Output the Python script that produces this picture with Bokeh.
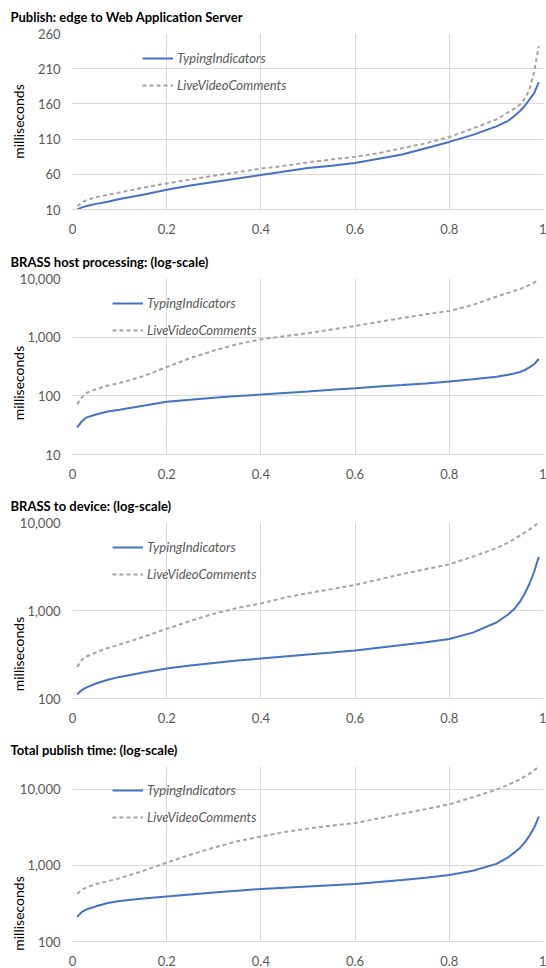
from bokeh.plotting import figure
from bokeh.layouts import column
from bokeh.models import (FixedTicker, NumeralTickFormatter, Range1d, Legend,
                          LegendItem, Label)
from bokeh.embed import file_html
from bokeh.resources import INLINE

# ---------------- data ----------------
pct = [0.01, 0.02, 0.03, 0.05, 0.075, 0.1, 0.15, 0.2, 0.25, 0.3, 0.35, 0.4,
       0.45, 0.5, 0.55, 0.6, 0.65, 0.7, 0.75, 0.8, 0.85, 0.9, 0.925, 0.94,
       0.95, 0.96, 0.97, 0.98, 0.99]

edge_typing = [10, 13, 15, 18, 21, 25, 31, 38, 44, 49, 54, 59, 64, 69, 72, 76,
               82, 88, 97, 106, 116, 128, 136, 144, 150, 157, 166, 175, 191]
edge_live = [15, 20, 23.5, 27.5, 31, 34, 41, 47, 52.5, 58, 63, 68, 72, 77, 81,
             85, 90, 97, 104, 113, 125, 138, 148, 154, 159, 167, 180, 205, 242]

host_typing = [29, 37, 43, 48, 54, 58, 68, 79, 86, 93, 99, 105, 112, 119, 127,
               135, 144, 153, 163, 175, 192, 212, 228, 243, 255, 275, 305, 345,
               425]
host_live = [72, 95, 112, 130, 150, 165, 215, 310, 440, 590, 760, 920, 1040,
             1170, 1350, 1550, 1820, 2130, 2450, 2800, 3550, 4900, 5700, 6250,
             6600, 7100, 7800, 8500, 9400]

device_typing = [112, 125, 134, 148, 163, 176, 198, 219, 237, 253, 270, 285,
                 300, 316, 333, 352, 378, 405, 436, 474, 560, 730, 900, 1070,
                 1260, 1550, 2000, 2750, 4070]
device_live = [228, 275, 300, 335, 375, 410, 500, 620, 760, 920, 1070, 1200,
               1400, 1570, 1750, 1950, 2250, 2600, 2950, 3350, 4100, 5100,
               5900, 6600, 7100, 7700, 8300, 9100, 9930]

total_typing = [211, 245, 265, 290, 320, 340, 368, 391, 415, 440, 465, 490,
                510, 530, 550, 571, 605, 645, 690, 748, 850, 1050, 1280, 1510,
                1700, 2000, 2450, 3100, 4400]
total_live = [424, 480, 515, 570, 620, 680, 850, 1090, 1380, 1720, 2080, 2400,
              2750, 3050, 3350, 3610, 4150, 4800, 5500, 6380, 7900, 9900,
              11500, 12700, 13500, 14700, 16000, 17800, 19900]

x_ticks = [0, 0.2, 0.4, 0.6, 0.8, 1]
titles = ["Publish: edge to Web Application Server",
          "BRASS host processing: (log-scale)",
          "BRASS to device: (log-scale)",
          "Total publish time: (log-scale)"]
series_names = ["TypingIndicators", "LiveVideoComments"]
y_label = "milliseconds"

# ---------------- styling ----------------
FONT = "Lato"
BLUE = "#4472C4"
GRAY = "#A5A5A5"
GRID = "#D9D9D9"
TXT = "#595959"
TOP = 33


def make(title, typing, live, y_type, y_rng, y_ticks, fmt, height, bottom,
         legend_x, label_y):
    p = figure(width=546, height=height, x_range=Range1d(0, 1),
               y_range=Range1d(*y_rng), y_axis_type=y_type,
               output_backend="svg", toolbar_location=None,
               min_border_left=72, min_border_right=3, min_border_top=TOP,
               min_border_bottom=bottom)
    p.outline_line_color = None
    p.background_fill_color = "white"
    p.border_fill_color = "white"

    p.title.text = title
    p.title.text_font = FONT
    p.title.text_font_size = "13px"
    p.title.text_font_style = "bold"
    p.title.text_color = "#000000"
    p.title.align = "left"
    p.title.vertical_align = "top"
    p.title.offset = -62
    p.title.standoff = 13

    p.xaxis.ticker = FixedTicker(ticks=x_ticks)
    p.xaxis.formatter = NumeralTickFormatter(format="0.[0]")
    p.yaxis.ticker = FixedTicker(ticks=y_ticks)
    p.yaxis.formatter = NumeralTickFormatter(format=fmt)
    for ax in (p.xaxis[0], p.yaxis[0]):
        ax.major_tick_line_color = None
        ax.minor_tick_line_color = None
        ax.major_label_text_font = FONT
        ax.major_label_text_font_size = "13px"
        ax.major_label_text_color = TXT
    p.xaxis.axis_line_color = GRID
    p.yaxis.axis_line_color = None
    p.xaxis.major_label_standoff = 8
    # the "milliseconds" panel sits between the frame and the tick labels,
    # so the tick labels are pulled back over it
    p.yaxis.major_label_standoff = -11

    p.xgrid.ticker = FixedTicker(ticks=x_ticks)
    p.ygrid.ticker = FixedTicker(ticks=y_ticks)
    p.grid.grid_line_color = GRID
    p.grid.grid_line_width = 1

    r1 = p.line(pct, typing, line_color=BLUE, line_width=2)
    r2 = p.line(pct, live, line_color=GRAY, line_width=2, line_dash="4 3")

    legend = Legend(items=[LegendItem(label=series_names[0], renderers=[r1]),
                           LegendItem(label=series_names[1], renderers=[r2])],
                    location=(legend_x, 114))
    legend.border_line_color = None
    legend.background_fill_alpha = 0
    legend.padding = 0
    legend.margin = 0
    legend.spacing = 7
    legend.glyph_width = 31
    legend.glyph_height = 20
    legend.label_height = 20
    legend.label_standoff = 4
    legend.label_text_font = FONT
    legend.label_text_font_size = "13px"
    legend.label_text_font_style = "italic"
    legend.label_text_color = TXT
    p.add_layout(legend, "center")

    # "milliseconds" title, in the left side panel (not clipped to the frame)
    lab = Label(x=-37, y=label_y, x_units="screen", y_units="screen",
                text=y_label, angle=1.5707963, text_align="center",
                text_baseline="middle", text_font=FONT,
                text_font_size="14px", text_color="#000000")
    yax = p.yaxis[0]
    p.left = [lab, yax]
    return p


p1 = make(titles[0], edge_typing, edge_live, "linear", (10, 260),
          [10, 60, 110, 160, 210, 260], "0", 245, 36, 70, 88)
p2 = make(titles[1], host_typing, host_live, "log", (10, 10000),
          [10, 100, 1000, 10000], "0,0", 244, 35, 40, 71.5)
p3 = make(titles[2], device_typing, device_live, "log", (100, 10000),
          [100, 1000, 10000], "0,0", 244, 35, 40, 44.5)
p4 = make(titles[3], total_typing, total_live, "log", (100, 20000),
          [100, 1000, 10000], "0,0", 235, 26, 40, 28)

layout = column(p1, p2, p3, p4, spacing=0)
open("out.html", "w").write(file_html(layout, INLINE))
